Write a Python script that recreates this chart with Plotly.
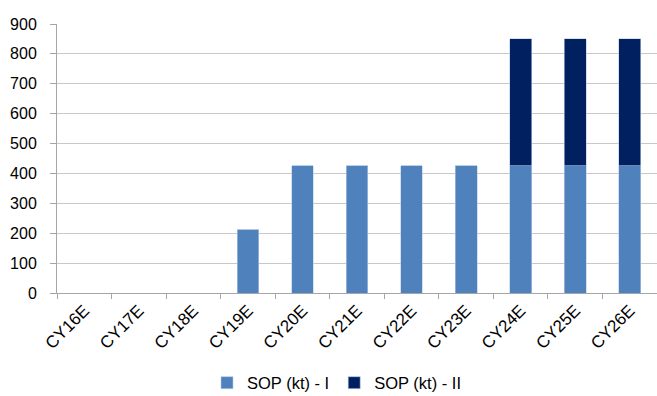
import plotly.graph_objects as go

# Capacity by calendar year
years = ["CY16E", "CY17E", "CY18E", "CY19E", "CY20E", "CY21E",
         "CY22E", "CY23E", "CY24E", "CY25E", "CY26E"]
sop_phase1 = [0, 0, 0, 212.5, 425, 425, 425, 425, 425, 425, 425]
sop_phase2 = [0, 0, 0, 0, 0, 0, 0, 0, 425, 425, 425]
y_ticks = [0, 100, 200, 300, 400, 500, 600, 700, 800, 900]

fig = go.Figure()
fig.add_trace(go.Bar(
    x=years, y=sop_phase1, name="SOP (kt) - I",
    marker=dict(color="#4F81BD", line=dict(color="#B9CDE5", width=0.6)),
    width=0.4,
))
fig.add_trace(go.Bar(
    x=years, y=sop_phase2, name="SOP (kt) - II",
    marker=dict(color="#002060", line=dict(color="#B9CDE5", width=0.6)),
    width=0.4,
))

fig.update_layout(
    barmode="stack",
    width=657, height=396,
    margin=dict(l=57, r=0, t=24, b=103),
    paper_bgcolor="white", plot_bgcolor="white",
    font=dict(family="Liberation Sans, Arial, sans-serif", size=17, color="#000000"),
    showlegend=True,
    legend=dict(
        orientation="h", x=0.25, xanchor="left",
        yref="container", y=0.033, yanchor="middle",
        font=dict(size=16.5), traceorder="normal",
    ),
)
fig.update_xaxes(
    showline=True, linecolor="#A6A6A6", linewidth=1,
    ticks="outside", tickson="boundaries", ticklen=5, tickcolor="#A6A6A6",
    tickangle=-45, showgrid=False,
    tickfont=dict(size=17),
)
fig.update_yaxes(
    range=[0, 900], tickvals=y_ticks,
    showline=True, linecolor="#A6A6A6", linewidth=1,
    ticks="outside", ticklen=6, tickcolor="#A6A6A6",
    ticklabelstandoff=10,
    showgrid=True, gridcolor="#C8C8C8", gridwidth=1,
    zeroline=False, tickfont=dict(size=16),
)

fig.write_html("out.html")
